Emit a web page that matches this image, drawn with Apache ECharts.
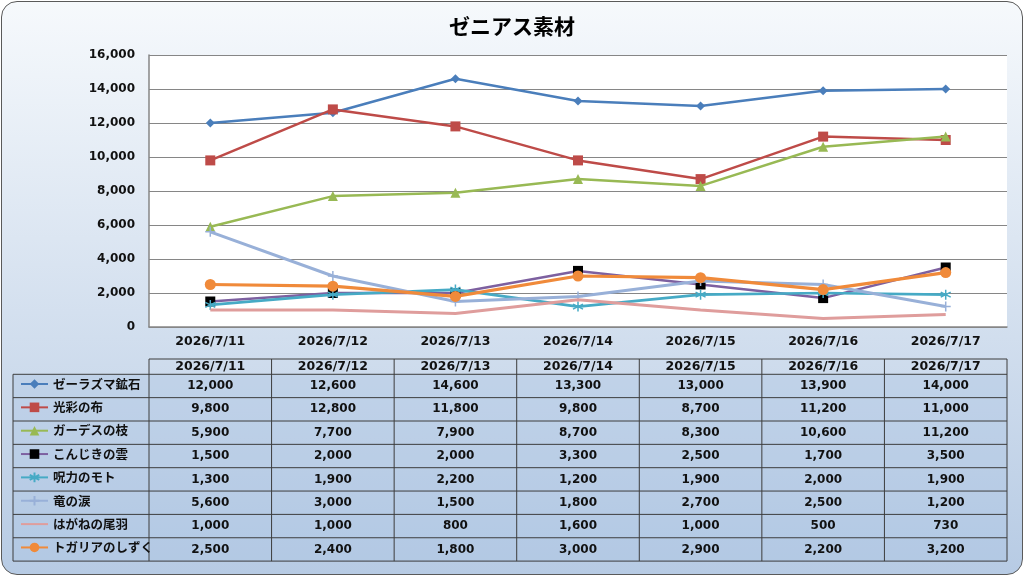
<!DOCTYPE html>
<html lang="ja">
<head>
<meta charset="UTF-8">
<title>ゼニアス素材</title>
<style>
html, body { margin: 0; padding: 0; background: #fff; }
#main {
    position: absolute; left: 1px; top: 1px;
    width: 1020px; height: 572px;
    border: 1px solid #5a5a5a; border-radius: 16px;
    background: linear-gradient(#f6f9fc, #b7cbe4);
    overflow: hidden;
}
</style>
</head>
<body>
<div id="main"></div>
<script src="https://cdn.jsdelivr.net/npm/echarts@6/dist/echarts.min.js"></script>
<script>
// データ
var dates = ['2026/7/11', '2026/7/12', '2026/7/13', '2026/7/14', '2026/7/15', '2026/7/16', '2026/7/17'];
var names = ['ゼーラズマ鉱石', '光彩の布', 'ガーデスの枝', 'こんじきの雲', '呪力のモト', '竜の涙', 'はがねの尾羽', 'トガリアのしずく'];
var zeraOre   = [12000, 12600, 14600, 13300, 13000, 13900, 14000];
var kosaiCloth = [9800, 12800, 11800, 9800, 8700, 11200, 11000];
var gardesBranch = [5900, 7700, 7900, 8700, 8300, 10600, 11200];
var konjikiCloud = [1500, 2000, 2000, 3300, 2500, 1700, 3500];
var jurikiMoto = [1300, 1900, 2200, 1200, 1900, 2000, 1900];
var ryuTear = [5600, 3000, 1500, 1800, 2700, 2500, 1200];
var haganeFeather = [1000, 1000, 800, 1600, 1000, 500, 730];
var togariaDrop = [2500, 2400, 1800, 3000, 2900, 2200, 3200];
var yTicks = [0, 2000, 4000, 6000, 8000, 10000, 12000, 14000, 16000];

var allValues = [zeraOre, kosaiCloth, gardesBranch, konjikiCloud, jurikiMoto, ryuTear, haganeFeather, togariaDrop];

var NUM_FONT = '"DejaVu Sans", "Noto Sans CJK JP", sans-serif';
var JP_FONT = '"Noto Sans CJK JP", sans-serif';
var starPath = 'path://M5,0L5,10M0.7,2.5L9.3,7.5M0.7,7.5L9.3,2.5';
var plusPath = 'path://M5,0L5,10M0,5L10,5';

// 系列のスタイル
var styles = [
    { color: '#4a7ebb', width: 2.5, symbol: 'diamond', size: 9 },
    { color: '#be4b48', width: 2.5, symbol: 'rect', size: 10 },
    { color: '#98b954', width: 2.5, symbol: 'triangle', size: 10 },
    { color: '#7d60a0', width: 2.5, symbol: 'rect', size: 10, markColor: '#000' },
    { color: '#46aac5', width: 2.75, symbol: starPath, size: 10, stroke: true },
    { color: '#98b0d8', width: 3, symbol: plusPath, size: 10, stroke: true },
    { color: '#df9d9c', width: 3, symbol: 'none', size: 0 },
    { color: '#f08a3a', width: 3.25, symbol: 'circle', size: 11 }
];

var series = [];
for (var i = 0; i < names.length; i++) {
    var s = styles[i];
    var itemStyle = { color: s.markColor || s.color };
    if (s.stroke) {
        itemStyle = { color: s.color, borderColor: s.color, borderWidth: 1.5 };
    }
    if (s.symbol === 'none') {
        itemStyle = { color: 'rgba(0,0,0,0)' };
    }
    series.push({
        name: names[i],
        type: 'line',
        data: allValues[i],
        symbol: s.symbol === 'none' ? 'circle' : s.symbol,
        symbolSize: s.size,
        showSymbol: s.symbol !== 'none',
        lineStyle: { color: s.color, width: s.width },
        itemStyle: itemStyle,
        emphasis: { disabled: true },
        z: 2 + i
    });
}

var chart = echarts.init(document.getElementById('main'));

chart.setOption({
    animation: false,
    title: {
        text: 'ゼニアス素材',
        left: 'center',
        top: 9,
        textStyle: { fontFamily: JP_FONT, fontSize: 21, fontWeight: 'bold', color: '#000' }
    },
    grid: { left: 147, right: 15, top: 53, bottom: 247, show: true, backgroundColor: '#fff', borderWidth: 0 },
    legend: {
        orient: 'vertical',
        left: 13,
        top: 370,
        itemWidth: 27,
        itemHeight: 12,
        itemGap: 9.35,
        selectedMode: false,
        data: names,
        textStyle: { fontFamily: JP_FONT, fontSize: 12.5, fontWeight: 'bold', color: '#111', lineHeight: 14 }
    },
    xAxis: {
        type: 'category',
        data: dates,
        boundaryGap: true,
        axisLine: { lineStyle: { color: '#868686', width: 1.5 } },
        axisTick: { show: false },
        axisLabel: { fontFamily: NUM_FONT, fontSize: 12.5, fontWeight: 'bold', color: '#111', margin: 8 }
    },
    yAxis: {
        type: 'value',
        min: yTicks[0],
        max: yTicks[yTicks.length - 1],
        interval: 2000,
        axisLine: { show: true, lineStyle: { color: '#868686', width: 1.5 } },
        axisTick: { show: false },
        splitLine: { lineStyle: { color: '#868686', width: 1 } },
        axisLabel: {
            fontFamily: NUM_FONT, fontSize: 12, fontWeight: 'bold', color: '#111', margin: 14,
            formatter: function (v) { return v.toLocaleString('en-US'); }
        }
    },
    series: series
});

// データテーブル
var headerTop = 357, headerBottom = 372.3, rowH = 23.35, tableLeft = 11;
var centers = dates.map(function (d, i) { return chart.convertToPixel({ xAxisIndex: 0 }, i); });
var band = centers[1] - centers[0];
var colLeft = centers[0] - band / 2, colRight = centers[centers.length - 1] + band / 2;
var tableBottom = headerBottom + rowH * names.length;
var lineStyle = { stroke: '#3c3c3c', lineWidth: 1 };
var g = [];

g.push({ type: 'rect', shape: { x: tableLeft, y: headerBottom, width: colRight - tableLeft, height: tableBottom - headerBottom }, style: { fill: 'rgba(170,195,225,0.35)' }, silent: true, z: 0 });
g.push({ type: 'line', shape: { x1: colLeft, y1: headerTop, x2: colRight, y2: headerTop }, style: lineStyle, silent: true });
for (var r = 0; r <= names.length; r++) {
    var y = headerBottom + rowH * r;
    g.push({ type: 'line', shape: { x1: tableLeft, y1: y, x2: colRight, y2: y }, style: lineStyle, silent: true });
}
g.push({ type: 'line', shape: { x1: tableLeft, y1: headerBottom, x2: tableLeft, y2: tableBottom }, style: lineStyle, silent: true });
for (var c = 0; c <= dates.length; c++) {
    var x = colLeft + band * c;
    g.push({ type: 'line', shape: { x1: x, y1: headerTop, x2: x, y2: tableBottom }, style: lineStyle, silent: true });
}
for (var c = 0; c < dates.length; c++) {
    g.push({
        type: 'text', silent: true,
        style: { text: dates[c], x: centers[c], y: (headerTop + headerBottom) / 2 + 0.5, align: 'center', verticalAlign: 'middle',
                 font: 'bold 12.5px ' + NUM_FONT, fill: '#111' }
    });
    for (var r = 0; r < names.length; r++) {
        g.push({
            type: 'text', silent: true,
            style: { text: allValues[r][c].toLocaleString('en-US'), x: centers[c], y: headerBottom + rowH * (r + 0.5),
                     align: 'center', verticalAlign: 'middle', font: 'bold 12px ' + NUM_FONT, fill: '#111' }
        });
    }
}
chart.setOption({ graphic: g });
</script>
</body>
</html>
